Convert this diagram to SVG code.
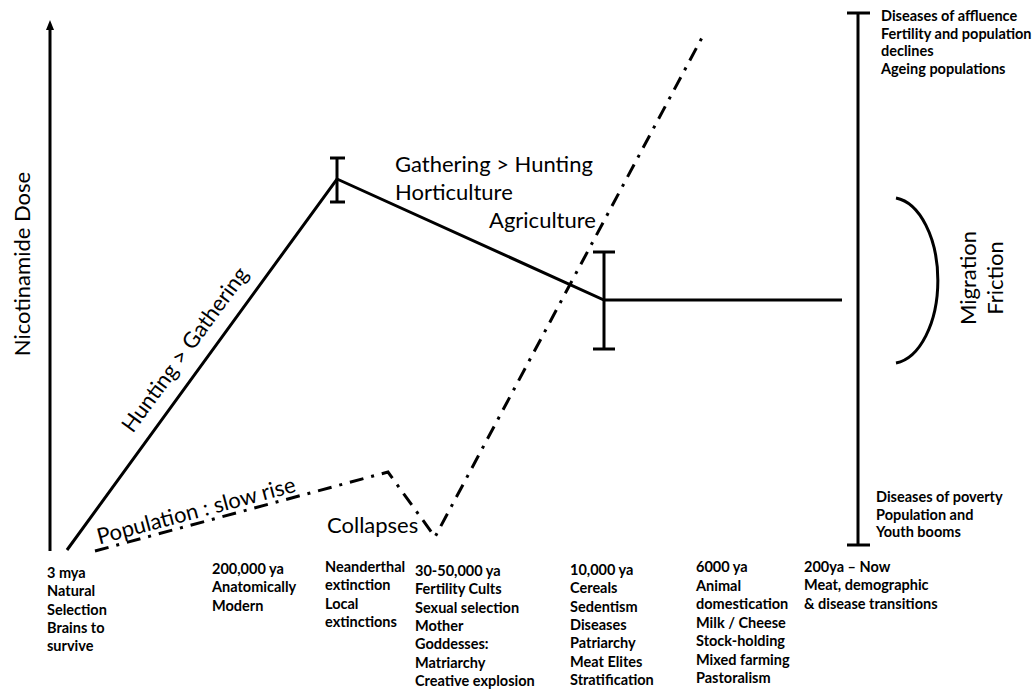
<svg xmlns="http://www.w3.org/2000/svg" width="1033" height="690" viewBox="0 0 1033 690">
<style>
.ln{stroke:#000;stroke-width:3;fill:none;stroke-linecap:butt}
.dd{stroke:#000;stroke-width:3;fill:none;stroke-dasharray:14 8 3 8}
.big{font-family:Lato,"Liberation Sans",sans-serif;font-size:22px;fill:#000}
.sm{font-family:Lato,"Liberation Sans",sans-serif;font-size:14.5px;font-weight:bold;fill:#000}
</style>
<defs>
<marker id="ah" markerUnits="userSpaceOnUse" markerWidth="10" markerHeight="8" viewBox="0 0 10 8" refX="4" refY="4" orient="auto">
<path d="M0,0 L10,4 L0,8 z" fill="#000"/>
</marker>
</defs>
<rect width="1033" height="690" fill="#fff"/>
<g id="connectors">
<line id="y-axis" class="ln" x1="50" y1="551" x2="50" y2="26" marker-end="url(#ah)"/>
<polyline id="dose-line" class="ln" points="67,550 337,179 604,300 842,300" stroke-linejoin="miter"/>
<g id="errorbar-peak" class="ln">
<line x1="337" y1="158" x2="337" y2="202"/>
<line x1="330" y1="158" x2="345" y2="158"/>
<line x1="330" y1="202" x2="345" y2="202"/>
</g>
<g id="errorbar-agri" class="ln">
<line x1="604" y1="252" x2="604" y2="349"/>
<line x1="593" y1="252" x2="615" y2="252"/>
<line x1="593" y1="349" x2="615" y2="349"/>
</g>
<polyline id="population-line" class="dd" points="95,551 388,472 435,537 705,32"/>
<g id="right-bar" class="ln">
<line x1="858" y1="13" x2="858" y2="545"/>
<line x1="847" y1="13" x2="870" y2="13"/>
<line x1="847" y1="545" x2="870" y2="545"/>
</g>
<path id="migration-arc" class="ln" d="M896,198 A47,83 0 0 1 896,363"/>
</g>
<g id="axis-label"><text class="big" text-anchor="middle" transform="translate(30,264) rotate(-90)">Nicotinamide Dose</text></g>
<g id="hunting-label"><text class="big" text-anchor="middle" transform="translate(191,354) rotate(-54)">Hunting &gt; Gathering</text></g>
<g id="gathering-label"><text class="big" x="395" y="172">Gathering &gt; Hunting</text><text class="big" x="395" y="200">Horticulture</text><text class="big" x="489" y="228">Agriculture</text></g>
<g id="population-label"><text class="big" text-anchor="middle" transform="translate(198,518) rotate(-15)">Population : slow rise</text></g>
<g id="collapses-label"><text class="big" x="327" y="533">Collapses</text></g>
<g id="migration-label"><text class="big" text-anchor="middle" transform="translate(976,278) rotate(-90)">Migration</text><text class="big" text-anchor="middle" transform="translate(1003,278) rotate(-90)">Friction</text></g>
<g id="affluence-label"><text class="sm"><tspan x="881" y="21">Diseases of affluence</tspan><tspan x="881" y="38.5">Fertility and population</tspan><tspan x="881" y="56">declines</tspan><tspan x="881" y="73.5">Ageing populations</tspan></text></g>
<g id="poverty-label"><text class="sm"><tspan x="876" y="502">Diseases of poverty</tspan><tspan x="876" y="519.5">Population and</tspan><tspan x="876" y="537">Youth booms</tspan></text></g>
<g id="t-3mya"><text class="sm"><tspan x="47" y="578">3 mya</tspan><tspan x="47" y="596.3">Natural</tspan><tspan x="47" y="614.6">Selection</tspan><tspan x="47" y="632.9">Brains to</tspan><tspan x="47" y="651.2">survive</tspan></text></g>
<g id="t-200000"><text class="sm"><tspan x="212" y="574">200,000 ya</tspan><tspan x="212" y="592.3">Anatomically</tspan><tspan x="212" y="610.6">Modern</tspan></text></g>
<g id="t-neanderthal"><text class="sm"><tspan x="325" y="572">Neanderthal</tspan><tspan x="325" y="590.3">extinction</tspan><tspan x="325" y="608.6">Local</tspan><tspan x="325" y="626.9">extinctions</tspan></text></g>
<g id="t-30000"><text class="sm"><tspan x="415" y="576">30-50,000 ya</tspan><tspan x="415" y="594.3">Fertility Cults</tspan><tspan x="415" y="612.6">Sexual selection</tspan><tspan x="415" y="630.9">Mother</tspan><tspan x="415" y="649.2">Goddesses:</tspan><tspan x="415" y="667.5">Matriarchy</tspan><tspan x="415" y="685.8">Creative explosion</tspan></text></g>
<g id="t-10000"><text class="sm"><tspan x="570" y="575">10,000 ya</tspan><tspan x="570" y="593.3">Cereals</tspan><tspan x="570" y="611.6">Sedentism</tspan><tspan x="570" y="629.9">Diseases</tspan><tspan x="570" y="648.2">Patriarchy</tspan><tspan x="570" y="666.5">Meat Elites</tspan><tspan x="570" y="684.8">Stratification</tspan></text></g>
<g id="t-6000"><text class="sm"><tspan x="696" y="572">6000 ya</tspan><tspan x="696" y="590.5">Animal</tspan><tspan x="696" y="609">domestication</tspan><tspan x="696" y="627.5">Milk / Cheese</tspan><tspan x="696" y="646">Stock-holding</tspan><tspan x="696" y="664.5">Mixed farming</tspan><tspan x="696" y="683">Pastoralism</tspan></text></g>
<g id="t-200ya"><text class="sm"><tspan x="804" y="572">200ya – Now</tspan><tspan x="804" y="590.3">Meat, demographic</tspan><tspan x="804" y="608.6">&amp; disease transitions</tspan></text></g>
</svg>
